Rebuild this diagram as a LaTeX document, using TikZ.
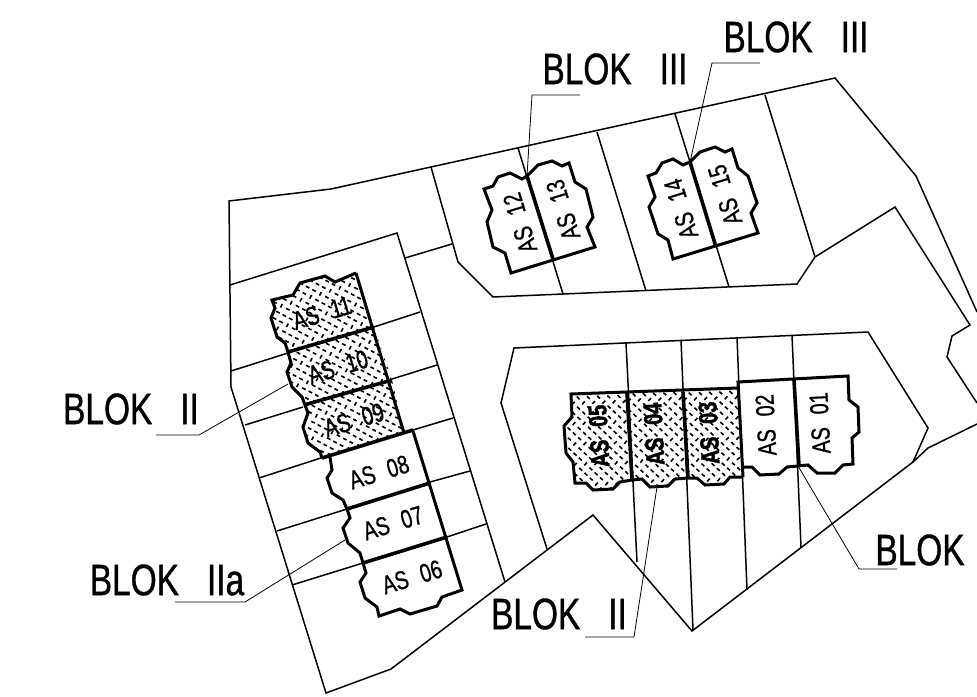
\documentclass[tikz,border=0pt]{standalone}
\usepackage{fontspec}
\setmainfont[FakeStretch=0.76,FakeBold=0.8,BoldFont={Liberation Sans Bold},BoldFeatures={FakeBold=1.4}]{Liberation Sans}
\tikzset{
  site/.style={line width=1.5pt,line join=miter,black},
  plot/.style={line width=3pt,line join=miter,black},
  divider/.style={line width=3.6pt,black},
  leader/.style={line width=0.8pt,black},
  treaddash/.style={line width=1.6pt,black},
  bigtxt/.style={inner sep=0pt,anchor=center,font=\fontsize{44}{44}\selectfont},
  lottxt/.style={inner sep=0pt,anchor=center,font=\fontsize{26}{26}\selectfont},
  boldtxt/.style={inner sep=0pt,anchor=center,font=\fontsize{26}{26}\selectfont\bfseries},
}
\newcommand{\treadfill}[3]{%
  \begin{scope}
    \clip #1;
    \begin{scope}[shift={#2},rotate=#3]
      \foreach \i in {-13,...,13}{\foreach \j in {-13,...,13}{%
        \ifodd\numexpr\i+\j+100\relax\else
          \pgfmathtruncatemacro{\rowkey}{mod(\j+100,4)}%
          \ifnum\rowkey=1
            \draw[treaddash] ({\i*5.1-1.4},{\j*5.1+1.4}) -- ++(2.8,-2.8);
          \else
            \draw[treaddash] ({\i*5.1-1.4},{\j*5.1-1.4}) -- ++(2.8,2.8);
          \fi
        \fi}}
    \end{scope}
  \end{scope}}
\def\pEleven{(356,273)--(335,282)--(325,276)--(300,283)--(293,295)--(272,300)--(275,308)--(271,318)--(277,337)--(285,343)--(288,352)--(374,327)--cycle}
\def\pTen{(288,352)--(291,363)--(287,372)--(292,387)--(302,397)--(305,405)--(392,380)--(374,327)--cycle}
\def\pNine{(305,405)--(308,413)--(303,427)--(308,443)--(320,452)--(322,458)--(413,430)--(404,433)--(392,380)--cycle}
\def\pFive{(571,394)--(572,417)--(564,426)--(566,453)--(573,462)--(575,483)--(586,483)--(593,490)--(613,489)--(620,482)--(632,480)--(627,393)--cycle}
\def\pFour{(627,393)--(632,480)--(642,479)--(650,487)--(668,486)--(675,479)--(688,478)--(683,392)--cycle}
\def\pThree{(683,392)--(688,478)--(697,478)--(705,485)--(724,484)--(730,477)--(743,477)--(738,388)--cycle}
\begin{document}
\begin{tikzpicture}[x=1pt,y=-1pt]
\useasboundingbox (0,0) rectangle (977,696);
\fill[white] (0,0) rectangle (977,696);
% site outline
\draw[site] (977,312)--(916,176)--(835,78)--(331,189)--(229,201)--(231,387)--(326,693)--(391,669)--(593,515)--(692,631)--(913,462)--(928,448)--(977,424);
% road edges
\draw[site] (431,167)--(458,262)--(493,297)--(797,284)--(815,257)--(895,207)--(970,325)--(952,336)--(947,357)--(977,403);
\draw[site] (230,285)--(397,233)--(505,582);
\draw[site] (405,258)--(452,244);
\draw[site] (547,549)--(501,403)--(514,348)--(868,332)--(928,428)--(913,462);
% lot lines west
\draw[site] (231,371)--(288,353);
\draw[site] (374,327)--(420,312);
\draw[site] (245,425)--(303,407);
\draw[site] (392,379)--(437,365);
\draw[site] (413,430)--(453,418);
\draw[site] (259,478)--(327,456);
\draw[site] (430,482)--(470,471);
\draw[site] (277,531)--(347,509);
\draw[site] (447,537)--(486,524);
\draw[site] (292,585)--(363,563);
% lot lines north
\draw[site] (518,148)--(563,294);
\draw[site] (597,132)--(646,291);
\draw[site] (675,114)--(729,287);
\draw[site] (765,95)--(815,257);
% lot lines south
\draw[site] (626,343)--(637,562);
\draw[site] (681,340)--(693,630);
\draw[site] (737,337)--(747,590);
\draw[site] (792,335)--(801,547);
% tread fill
\treadfill{\pEleven}{(320,310)}{17}
\treadfill{\pTen}{(340,367)}{17}
\treadfill{\pNine}{(355,420)}{17}
\treadfill{\pFive}{(600,438)}{2}
\treadfill{\pFour}{(656,435)}{2}
\treadfill{\pThree}{(712,434)}{2}
% plots west
\draw[plot] (356,273)--(335,282)--(325,276)--(300,283)--(293,295)--(272,300)--(275,308)--(271,318)--(277,337)--(285,343)--(288,352)--(291,363)--(287,372)--(292,387)--(302,397)--(305,405)--(308,413)--(303,427)--(308,443)--(320,452)--(322,458);
\draw[plot] (356,273)--(404,433);
\draw[plot] (330,457)--(332,470)--(327,478)--(332,493)--(343,500)--(347,509)--(350,518)--(343,528)--(348,543)--(360,553)--(363,563)--(366,573)--(360,582)--(365,598)--(377,607)--(379,616)--(400,609)--(410,614)--(437,606)--(442,597)--(462,590)--(413,431);
\draw[divider] (288,352)--(374,327);
\draw[divider] (304,405)--(392,380);
\draw[divider] (322,458)--(413,430);
\draw[divider] (347,509)--(430,483);
\draw[divider] (363,563)--(447,537);
% plots north
\draw[plot] (527,176)--(522,179)--(510,173)--(498,177)--(493,186)--(484,189)--(492,210)--(487,222)--(493,247)--(505,253)--(511,273)--(595,247)--(587,227)--(593,217)--(586,189)--(575,182)--(569,163)--(562,166)--(552,161)--(538,165)--cycle;
\draw[divider] (527,176)--(553,259);
\draw[plot] (690,162)--(683,165)--(673,159)--(662,163)--(656,173)--(648,176)--(655,197)--(649,207)--(658,234)--(668,240)--(673,259)--(758,233)--(751,213)--(757,203)--(748,176)--(738,168)--(732,149)--(725,152)--(715,147)--(700,152)--cycle;
\draw[divider] (690,162)--(716,247);
% plots south
\draw[plot] (738,388)--(571,394)--(572,417)--(564,426)--(566,453)--(573,462)--(575,483)--(586,483)--(593,490)--(613,489)--(620,482)--(632,480)--(642,479)--(650,487)--(668,486)--(675,479)--(688,478)--(697,478)--(705,485)--(724,484)--(730,477)--(743,477);
\draw[plot] (743,467)--(752,467)--(760,475)--(779,474)--(787,467)--(798,466)--(808,465)--(817,473)--(835,473)--(843,465)--(853,464)--(852,438)--(859,432)--(858,407)--(849,400)--(848,376)--(738,382)--(743,477);
\draw[divider] (627,393)--(632,480);
\draw[divider] (683,392)--(688,478);
\draw[divider] (794,380)--(799,466);
% plot labels
\node[lottxt,rotate=17] (as11) at (322,313) {AS\hspace{13pt}11};
\node[lottxt,rotate=17] (as10) at (338,367) {AS\hspace{13pt}10};
\node[lottxt,rotate=17] (as09) at (354,420) {AS\hspace{13pt}09};
\node[lottxt,rotate=17] (as08) at (379,472) {AS\hspace{13pt}08};
\node[lottxt,rotate=17] (as07) at (393,523) {AS\hspace{13pt}07};
\node[lottxt,rotate=17] (as06) at (412,577) {AS\hspace{13pt}06};
\node[lottxt,rotate=107] (as12) at (520,223) {AS\hspace{13pt}12};
\node[lottxt,rotate=107] (as13) at (563,210) {AS\hspace{13pt}13};
\node[lottxt,rotate=107] (as14) at (681,209) {AS\hspace{13pt}14};
\node[lottxt,rotate=107] (as15) at (725,195) {AS\hspace{13pt}15};
\node[boldtxt,rotate=93] (as05) at (599,436) {AS\hspace{13pt}05};
\node[boldtxt,rotate=93] (as04) at (654,434) {AS\hspace{13pt}04};
\node[boldtxt,rotate=93] (as03) at (709,433) {AS\hspace{13pt}03};
\node[lottxt,rotate=93] (as02) at (766,425) {AS\hspace{13pt}02};
\node[lottxt,rotate=93] (as01) at (820,423) {AS\hspace{13pt}01};
% block labels
\node[bigtxt] (b3r) at (796,37) {BLOK\hspace{28pt}III};
\node[bigtxt] (b3l) at (615,69) {BLOK\hspace{28pt}III};
\node[bigtxt] (b2w) at (131,409) {BLOK\hspace{28pt}II};
\node[bigtxt] (b2a) at (167,580) {BLOK\hspace{28pt}IIa};
\node[bigtxt] (b2s) at (559,614) {BLOK\hspace{28pt}II};
\node[bigtxt] (b1) at (920,550) {BLOK};
% leaders
\coordinate (l3r) at (712,63); \coordinate (e3r) at (760,63); \coordinate (t3r) at (690,162);
\coordinate (l3l) at (532,95); \coordinate (e3l) at (580,95); \coordinate (t3l) at (527,176);
\coordinate (l2w) at (199,435); \coordinate (e2w) at (156,435); \coordinate (t2w) at (288,384);
\coordinate (l2a) at (245,602); \coordinate (e2a) at (175,602); \coordinate (t2a) at (345,540);
\coordinate (l2s) at (634,637); \coordinate (e2s) at (585,637); \coordinate (t2s) at (657,487);
\coordinate (l1) at (859,569); \coordinate (e1) at (897,569); \coordinate (t1) at (798,466);
\draw[leader] (e3r)--(l3r)--(t3r);
\draw[leader] (e3l)--(l3l)--(t3l);
\draw[leader] (e2w)--(l2w)--(t2w);
\draw[leader] (e2a)--(l2a)--(t2a);
\draw[leader] (e2s)--(l2s)--(t2s);
\draw[leader] (e1)--(l1)--(t1);
\end{tikzpicture}
\end{document}
